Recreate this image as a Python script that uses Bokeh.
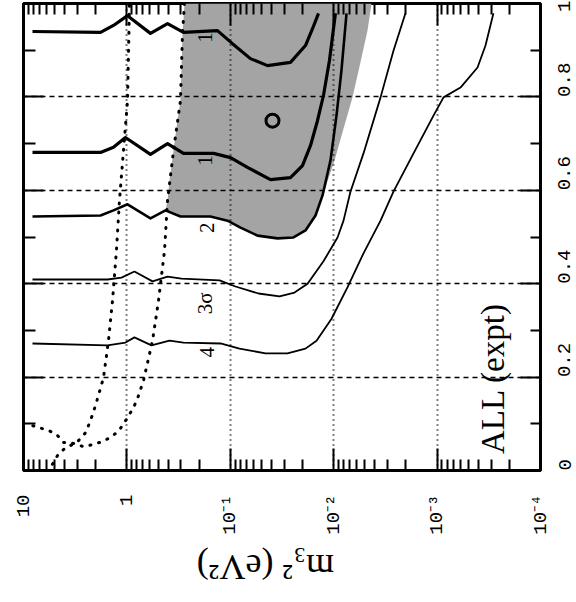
from math import pi
from bokeh.plotting import figure
from bokeh.layouts import column
from bokeh.models import (Range1d, LogAxis, LinearAxis, FixedTicker,
                          CustomJSTickFormatter, Label, ColumnDataSource)
from bokeh.core.properties import value
from bokeh.embed import file_html
from bokeh.resources import INLINE

# ---------------- data ----------------
# m^2 given as log10(m^2 / eV^2); s = mixing parameter (0..1)
x_tick_values = [10, 1, 0.1, 0.01, 0.001, 0.0001]
x_tick_labels = ["10", "1", "10\u207b\u00b9", "10\u207b\u00b2", "10\u207b\u00b3", "10\u207b\u2074"]
y_tick_values = [0, 0.2, 0.4, 0.6, 0.8, 1.0]
y_tick_labels = ["0", "0.2", "0.4", "0.6", "0.8", "1"]
y_minor_values = [0.1, 0.3, 0.5, 0.7, 0.9]

c4_logm2 = [0.913, 0.188, 0.014, -0.073, -0.238, -0.412, -0.547, -0.905, -1.089, -1.340,
            -1.553, -1.727, -1.834, -1.979, -2.133, -2.288, -2.453, -2.578, -2.772, -2.965,
            -3.062, -3.226, -3.391, -3.468, -3.545]
c4_s = [0.272, 0.268, 0.274, 0.285, 0.268, 0.278, 0.274, 0.272, 0.261, 0.251,
        0.251, 0.261, 0.278, 0.325, 0.392, 0.465, 0.535, 0.597, 0.679, 0.760,
        0.799, 0.820, 0.863, 0.910, 0.979]

c3_logm2 = [0.913, 0.188, 0.052, -0.073, -0.248, -0.393, -0.528, -0.896, -1.050, -1.273,
            -1.476, -1.621, -1.747, -1.901, -2.037, -2.095, -2.162, -2.288, -2.453, -2.578,
            -2.694]
c3_s = [0.409, 0.409, 0.413, 0.426, 0.405, 0.415, 0.411, 0.407, 0.394, 0.379,
        0.373, 0.381, 0.400, 0.448, 0.499, 0.535, 0.597, 0.679, 0.799, 0.899,
        0.979]

c2_logm2 = [0.913, 0.255, 0.130, -0.006, -0.228, -0.373, -0.518, -0.808, -0.973, -1.099,
            -1.263, -1.456, -1.611, -1.727, -1.824, -1.892, -1.969, -2.027, -2.075, -2.124]
c2_s = [0.544, 0.546, 0.557, 0.570, 0.540, 0.557, 0.544, 0.544, 0.535, 0.520,
        0.503, 0.497, 0.499, 0.514, 0.546, 0.589, 0.664, 0.760, 0.857, 0.979]

c1a_logm2 = [0.913, 0.255, 0.130, -0.006, -0.228, -0.393, -0.547, -0.876, -1.021, -1.195,
             -1.360, -1.582, -1.727, -1.795, -1.853]
c1a_s = [0.940, 0.938, 0.953, 0.974, 0.936, 0.957, 0.938, 0.942, 0.914, 0.882,
         0.867, 0.874, 0.910, 0.946, 0.979]

c1b_logm2 = [0.913, 0.255, 0.130, 0.014, -0.228, -0.393, -0.547, -0.838, -1.002, -1.166,
             -1.389, -1.582, -1.698, -1.776, -1.843, -1.901, -1.959, -2.017]
c1b_s = [0.681, 0.681, 0.692, 0.713, 0.677, 0.700, 0.679, 0.679, 0.670, 0.649,
         0.623, 0.627, 0.653, 0.696, 0.749, 0.803, 0.878, 0.979]

shade_logm2 = [-0.557, -0.538, -0.518, -0.489, -0.451, -0.412, -0.393, -0.373, -0.518, -0.808,
               -0.973, -1.099, -1.263, -1.456, -1.611, -1.727, -1.824, -1.911, -2.008, -2.104,
               -2.182, -2.259, -2.327, -2.366]
shade_s = [1.0, 0.936, 0.792, 0.749, 0.685, 0.621, 0.578, 0.557, 0.544, 0.544,
           0.535, 0.520, 0.503, 0.497, 0.499, 0.514, 0.546, 0.600, 0.664, 0.739,
           0.799, 0.874, 0.942, 1.0]

dotA_logm2 = [-0.025, -0.006, 0.033, 0.072, 0.101, 0.139, 0.178, 0.226, 0.275, 0.304,
              0.352, 0.400, 0.468, 0.526, 0.613, 0.671, 0.739]
dotA_s = [0.996, 0.792, 0.685, 0.578, 0.471, 0.364, 0.278, 0.199, 0.161, 0.139,
          0.107, 0.081, 0.064, 0.056, 0.045, 0.032, 0.006]

dotB_logm2 = [-0.557, -0.538, -0.518, -0.451, -0.393, -0.364, -0.306, -0.248, -0.161, -0.103,
              -0.064, -0.006, 0.081, 0.159, 0.236, 0.323, 0.420, 0.516, 0.613, 0.671,
              0.758, 0.855, 0.981]
dotB_s = [1.0, 0.936, 0.792, 0.685, 0.578, 0.471, 0.364, 0.278, 0.193, 0.154,
          0.135, 0.113, 0.084, 0.071, 0.062, 0.056, 0.051, 0.058, 0.060, 0.075,
          0.086, 0.092, 0.101]

best_logm2 = [-1.408]
best_s = [0.749]

lab_text = ["1", "1", "2", "3\u03c3", "4"]
lab_logm2 = [-0.760, -0.760, -0.779, -0.760, -0.779]
lab_s = [0.927, 0.664, 0.520, 0.358, 0.253]

panel_text = "ALL (expt)"
panel_logm2 = -3.545
panel_s = 0.197

x_title = "m\u2083\u00b2  (eV\u00b2)"


def m2(logs):
    return [10 ** v for v in logs]


# ---------------- main figure ----------------
p = figure(frame_width=517, frame_height=467,
           x_axis_type="log", x_range=Range1d(10, 1e-4), y_range=Range1d(0, 1),
           y_axis_location="right", output_backend="svg", toolbar_location=None,
           min_border_left=23, min_border_right=36, min_border_top=3, min_border_bottom=70,
           background_fill_color="white", border_fill_color="white")

p.outline_line_color = "black"
p.outline_line_width = 3
p.outline_line_alpha = 1.0

x_minor = [k * 10.0 ** e for e in range(-4, 1) for k in range(2, 10)]
xticker = FixedTicker(ticks=x_tick_values, minor_ticks=x_minor)
yticker = FixedTicker(ticks=y_tick_values, minor_ticks=y_minor_values)

xfmt = CustomJSTickFormatter(args=dict(vals=x_tick_values, labs=x_tick_labels), code="""
let k = 0, d = Infinity;
for (let i = 0; i < vals.length; i++) {
  const dd = Math.abs(Math.log10(vals[i]) - Math.log10(tick));
  if (dd < d) { d = dd; k = i; }
}
return labs[k];
""")
yfmt = CustomJSTickFormatter(args=dict(vals=y_tick_values, labs=y_tick_labels), code="""
let k = 0, d = Infinity;
for (let i = 0; i < vals.length; i++) {
  const dd = Math.abs(vals[i] - tick);
  if (dd < d) { d = dd; k = i; }
}
return labs[k];
""")
blank = CustomJSTickFormatter(code="return '';")


def style_ticks(ax, major, minor):
    ax.axis_line_color = None
    ax.major_tick_in = major
    ax.major_tick_out = 0
    ax.minor_tick_in = minor
    ax.minor_tick_out = 0
    ax.major_tick_line_width = 2
    ax.minor_tick_line_width = 2
    ax.major_tick_line_color = "black"
    ax.minor_tick_line_color = "black"


xa = p.xaxis[0]
xa.ticker = xticker
xa.formatter = xfmt
style_ticks(xa, 22, 11)
xa.major_label_orientation = pi / 2
xa.major_label_standoff = 24
xa.major_label_text_font = "Liberation Mono"
xa.major_label_text_font_size = "19px"
xa.major_label_text_color = "black"

ya = p.yaxis[0]
ya.ticker = yticker
ya.formatter = yfmt
style_ticks(ya, 20, 10)
ya.major_label_orientation = pi / 2
ya.major_label_standoff = 24
ya.major_label_text_font = "Liberation Mono"
ya.major_label_text_font_size = "19px"
ya.major_label_text_color = "black"

top = LogAxis(ticker=xticker, formatter=blank, major_label_text_font_size="0px",
              major_label_standoff=0)
style_ticks(top, 22, 11)
p.add_layout(top, "above")

left = LinearAxis(ticker=yticker, formatter=blank, major_label_text_font_size="0px",
                  major_label_standoff=0)
style_ticks(left, 20, 12)
p.add_layout(left, "left")

p.xgrid.grid_line_color = "black"
p.xgrid.grid_line_width = 2
p.xgrid.grid_line_dash = "1 4"
p.xgrid.level = "annotation"
p.ygrid.grid_line_color = "black"
p.ygrid.grid_line_width = 1.5
p.ygrid.grid_line_dash = "5 4"
p.ygrid.level = "annotation"

# shaded allowed region
p.patch(m2(shade_logm2), shade_s, fill_color="#a4a4a4", line_color=None)

# exclusion curves (dotted)
for lg, s in [(dotA_logm2, dotA_s), (dotB_logm2, dotB_s)]:
    p.line(m2(lg), s, line_color="black", line_width=3, line_dash="1 8", line_cap="round")

# contours
for lg, s, w in [(c4_logm2, c4_s, 1.8), (c3_logm2, c3_s, 1.8), (c2_logm2, c2_s, 2.6),
                 (c1a_logm2, c1a_s, 3.2), (c1b_logm2, c1b_s, 3.2)]:
    p.line(m2(lg), s, line_color="black", line_width=w, line_join="round")

p.scatter(m2(best_logm2), best_s, marker="circle", size=13, fill_color=None,
          line_color="black", line_width=3)

src = ColumnDataSource(dict(x=m2(lab_logm2), y=lab_s, t=lab_text))
p.text(x="x", y="y", text="t", source=src, angle=pi / 2, text_align="center",
       text_baseline="middle", text_font=value("Liberation Serif"),
       text_font_size="21px", text_color="black")

p.add_layout(Label(x=10 ** panel_logm2, y=panel_s, text=panel_text, angle=pi / 2,
                   text_align="center", text_baseline="middle",
                   text_font="Liberation Serif", text_font_size="33px", text_color="black"))

# ---------------- strip holding the (upside-down) axis title ----------------
t = figure(width=576, height=62, x_range=Range1d(0, 576), y_range=Range1d(0, 62),
           output_backend="svg", toolbar_location=None,
           min_border=0, outline_line_color=None,
           background_fill_color="white", border_fill_color="white")
t.axis.visible = False
t.grid.visible = False
t.add_layout(Label(x=266, y=36, text=x_title, angle=pi,
                   text_align="center", text_baseline="middle",
                   text_font="Liberation Serif", text_font_size="36px", text_color="black"))

layout = column(p, t, spacing=0)
open("out.html", "w").write(file_html(layout, INLINE))
